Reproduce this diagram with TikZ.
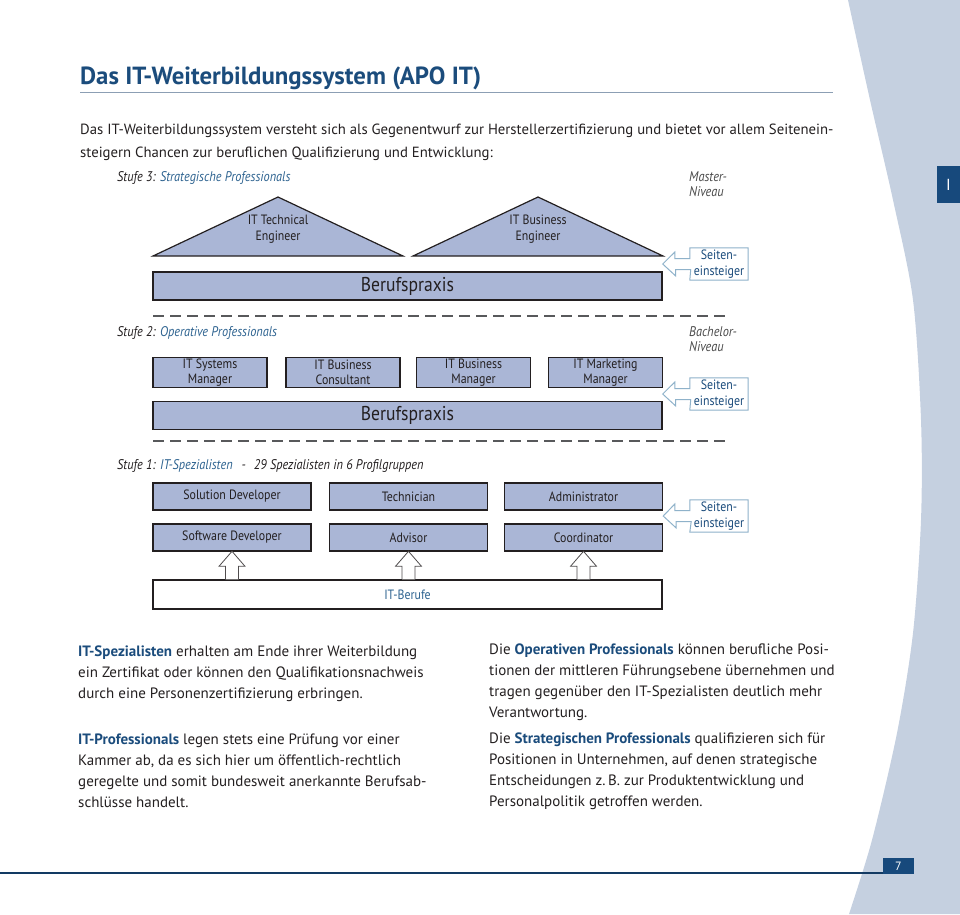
\documentclass[tikz,border=0pt]{standalone}
\usepackage{fontspec}
\setmainfont{PT Sans}
\newfontfamily\diagfont{PT Sans}[FakeStretch=0.88]
\usepackage{xcolor}
\usepackage{tikz}
\usetikzlibrary{calc}
\definecolor{ink}{HTML}{231F20}
\definecolor{titleblue}{HTML}{1B4C7C}
\definecolor{stufeblue}{HTML}{2E6390}
\definecolor{boxfill}{HTML}{AAB6D6}
\definecolor{band}{HTML}{C5D0E0}
\definecolor{tabblue}{HTML}{17497C}
\definecolor{sebord}{HTML}{8FB2CA}
\definecolor{rulegray}{HTML}{8C9FB4}
\definecolor{dashgray}{HTML}{58595B}
\definecolor{niveaugray}{HTML}{4A4A4A}
\tikzset{
  box/.style={draw=ink, line width=1.4pt, fill=boxfill, inner sep=0pt, align=center, text=ink, font=\diagfont\fontsize{13.5}{15}\selectfont},
  praxis/.style={box, minimum width=509pt, minimum height=28pt, font=\diagfont\fontsize{20}{22}\selectfont},
  mgr/.style={box, minimum width=114pt, minimum height=30pt},
  spec/.style={box, minimum width=158pt, minimum height=27pt},
  itbox/.style={box, fill=white, minimum width=509pt, minimum height=29pt, text=stufeblue},
  tri/.style={draw=ink, line width=1.2pt, fill=boxfill},
  trilbl/.style={align=center, text=ink, font=\diagfont\fontsize{13.5}{16}\selectfont},
  dashline/.style={draw=dashgray, line width=1.2pt, dash pattern=on 11pt off 6pt},
  stufe/.style={text=ink, inner sep=0pt, font=\diagfont\fontsize{14}{15}\selectfont\itshape},
  niveau/.style={text=niveaugray, inner sep=0pt, align=left, font=\diagfont\fontsize{14}{15.5}\selectfont\itshape},
  sebox/.style={text=titleblue, inner sep=0pt, align=center, minimum width=58pt, minimum height=32pt, font=\diagfont\fontsize{13.5}{16}\selectfont},
  seline/.style={draw=sebord, line width=1pt, fill=white},
  uparr/.style={draw=ink!80, line width=0.8pt, fill=white},
  body/.style={text=ink, inner sep=0pt, align=left, font=\fontsize{15}{20.8}\selectfont}
}

\begin{document}
\begin{tikzpicture}[x=1pt, y=-1pt]
  \useasboundingbox (0,0) rectangle (960,914);

  % page band, tab and footer
  \fill[band] plot[smooth] coordinates {(848,0) (870,100) (893,200) (913,300) (921,420) (921,520) (913,633) (897,733) (872,840) (849,914)} -- (960,914) -- (960,0) -- cycle;
  \node[fill=tabblue, text=white, minimum width=23pt, minimum height=37pt, inner sep=0pt, font=\fontsize{16}{16}\selectfont] (tab) at (948.5,184.5) {I};
  \draw[tabblue!80!black, line width=2pt] (0,873) -- (883,873);
  \node[fill=tabblue, text=white, minimum width=31pt, minimum height=16pt, inner sep=0pt, font=\fontsize{12}{12}\selectfont] (page) at (898.5,866) {7};

  % heading and intro
  \node[anchor=base west, inner sep=0pt, text=titleblue, font=\fontsize{24.8}{30}\selectfont\bfseries] (title) at (80,84) {Das IT-Weiterbildungssystem (APO IT)};
  \draw[rulegray, line width=1pt] (80,92) -- (833,92);
  \node[body, anchor=base west, font=\fontsize{14.75}{23}\selectfont] (intro) at (80,134) {Das IT-Weiterbildungssystem versteht sich als Gegenentwurf zur Herstellerzertifizierung und bietet vor allem Seitenein-};
  \node[body, anchor=base west, font=\fontsize{14.75}{23}\selectfont] (intro2) at (80,157) {steigern Chancen zur beruflichen Qualifizierung und Entwicklung:};

  % Stufe 3
  \node[stufe, anchor=base west] (s3) at (117,181) {Stufe 3: \textcolor{stufeblue}{Strategische Professionals}};
  \node[niveau, anchor=base west] (master) at (689,181) {Master-};
  \node[niveau, anchor=base west] (master2) at (689,196) {Niveau};
  \draw[tri] (153,256) -- (278,197) -- (403,256) -- cycle;
  \draw[tri] (413,256) -- (538,197) -- (663,256) -- cycle;
  \node[trilbl] (tte) at (278,229) {IT Technical\\Engineer};
  \node[trilbl] (tbe) at (538,229) {IT Business\\Engineer};
  \node[praxis] (praxis3) at (407.5,286) {Berufspraxis};
  \node[sebox] (se3) at (719,264) {Seiten-\\einsteiger};
  \draw[seline] (se3.south west) -- (se3.south east) -- (se3.north east) -- (se3.north west) -- ($(se3.west)+(0,-5.5)$) -- ++(-15,0) -- ++(0,-6.5) -- ($(praxis3.east |- se3.west)$) -- ++(13,12) -- ++(0,-6.5) -- ++(15,0) -- cycle;
  \node[sebox] at (se3) {Seiten-\\einsteiger};
  \draw[dashline] (153,316) -- (725,316);

  % Stufe 2
  \node[stufe, anchor=base west] (s2) at (117,336) {Stufe 2: \textcolor{stufeblue}{Operative Professionals}};
  \node[niveau, anchor=base west] (bachelor) at (689,336) {Bachelor-};
  \node[niveau, anchor=base west] (bachelor2) at (689,351) {Niveau};
  \node[mgr] (sysm) at (210,372.5) {IT Systems\\Manager};
  \node[mgr] (bcons) at (343,372.5) {IT Business\\Consultant};
  \node[mgr] (bman) at (473.5,372.5) {IT Business\\Manager};
  \node[mgr] (mktm) at (605.5,372.5) {IT Marketing\\Manager};
  \node[praxis] (praxis2) at (407.5,415.5) {Berufspraxis};
  \node[sebox] (se2) at (719,394) {Seiten-\\einsteiger};
  \draw[seline] (se2.south west) -- (se2.south east) -- (se2.north east) -- (se2.north west) -- ($(se2.west)+(0,-5.5)$) -- ++(-15,0) -- ++(0,-6.5) -- ($(praxis2.east |- se2.west)$) -- ++(13,12) -- ++(0,-6.5) -- ++(15,0) -- cycle;
  \node[sebox] at (se2) {Seiten-\\einsteiger};
  \draw[dashline] (153,441) -- (725,441);

  % Stufe 1
  \node[stufe, anchor=base west] (s1) at (117,469) {Stufe 1: \textcolor{stufeblue}{IT-Spezialisten}\hspace{9pt}-\hspace{8pt}29 Spezialisten in 6 Profilgruppen};
  \node[spec] (sold) at (232,496.5) {Solution Developer};
  \node[spec] (tech) at (408.5,496.5) {Technician};
  \node[spec] (admin) at (583.5,496.5) {Administrator};
  \node[spec] (softd) at (232,537.5) {Software Developer};
  \node[spec] (advis) at (408.5,537.5) {Advisor};
  \node[spec] (coord) at (583.5,537.5) {Coordinator};
  \node[itbox] (itb) at (407.5,594.5) {IT-Berufe};
  \draw[uparr] ($(softd.south |- itb.north)+(-6.5,0)$) -- ++(0,-13) -- ++(-6.5,0) -- ++(13,-15) -- ++(13,15) -- ++(-6.5,0) -- ++(0,13);
  \draw[uparr] ($(advis.south |- itb.north)+(-6.5,0)$) -- ++(0,-13) -- ++(-6.5,0) -- ++(13,-15) -- ++(13,15) -- ++(-6.5,0) -- ++(0,13);
  \draw[uparr] ($(coord.south |- itb.north)+(-6.5,0)$) -- ++(0,-13) -- ++(-6.5,0) -- ++(13,-15) -- ++(13,15) -- ++(-6.5,0) -- ++(0,13);
  \node[sebox] (se1) at (719,516) {Seiten-\\einsteiger};
  \draw[seline] (se1.south west) -- (se1.south east) -- (se1.north east) -- (se1.north west) -- ($(se1.west)+(0,-5.5)$) -- ++(-15,0) -- ++(0,-6.5) -- ($(admin.east |- se1.west)$) -- ++(13,12) -- ++(0,-6.5) -- ++(15,0) -- cycle;
  \node[sebox] at (se1) {Seiten-\\einsteiger};

  % explanations
  \node[body, anchor=north west] (spez) at (78,646) {\textbf{\color{titleblue}IT-Spezialisten} erhalten am Ende ihrer Weiterbildung\\ein Zertifikat oder können den Qualifikationsnachweis\\durch eine Personenzertifizierung erbringen.};
  \node[body, anchor=north west] (prof) at (78,734) {\textbf{\color{titleblue}IT-Professionals} legen stets eine Prüfung vor einer\\Kammer ab, da es sich hier um öffentlich-rechtlich\\geregelte und somit bundesweit anerkannte Berufsab-\\schlüsse handelt.};
  \node[body, anchor=north west] (oper) at (489,644) {Die \textbf{\color{titleblue}Operativen Professionals} können berufliche Posi-\\tionen der mittleren Führungsebene übernehmen und\\tragen gegenüber den IT-Spezialisten deutlich mehr\\Verantwortung.};
  \node[body, anchor=north west] (strat) at (489,733) {Die \textbf{\color{titleblue}Strategischen Professionals} qualifizieren sich für\\Positionen in Unternehmen, auf denen strategische\\Entscheidungen z.\,B. zur Produktentwicklung und\\Personalpolitik getroffen werden.};
\end{tikzpicture}
\end{document}
